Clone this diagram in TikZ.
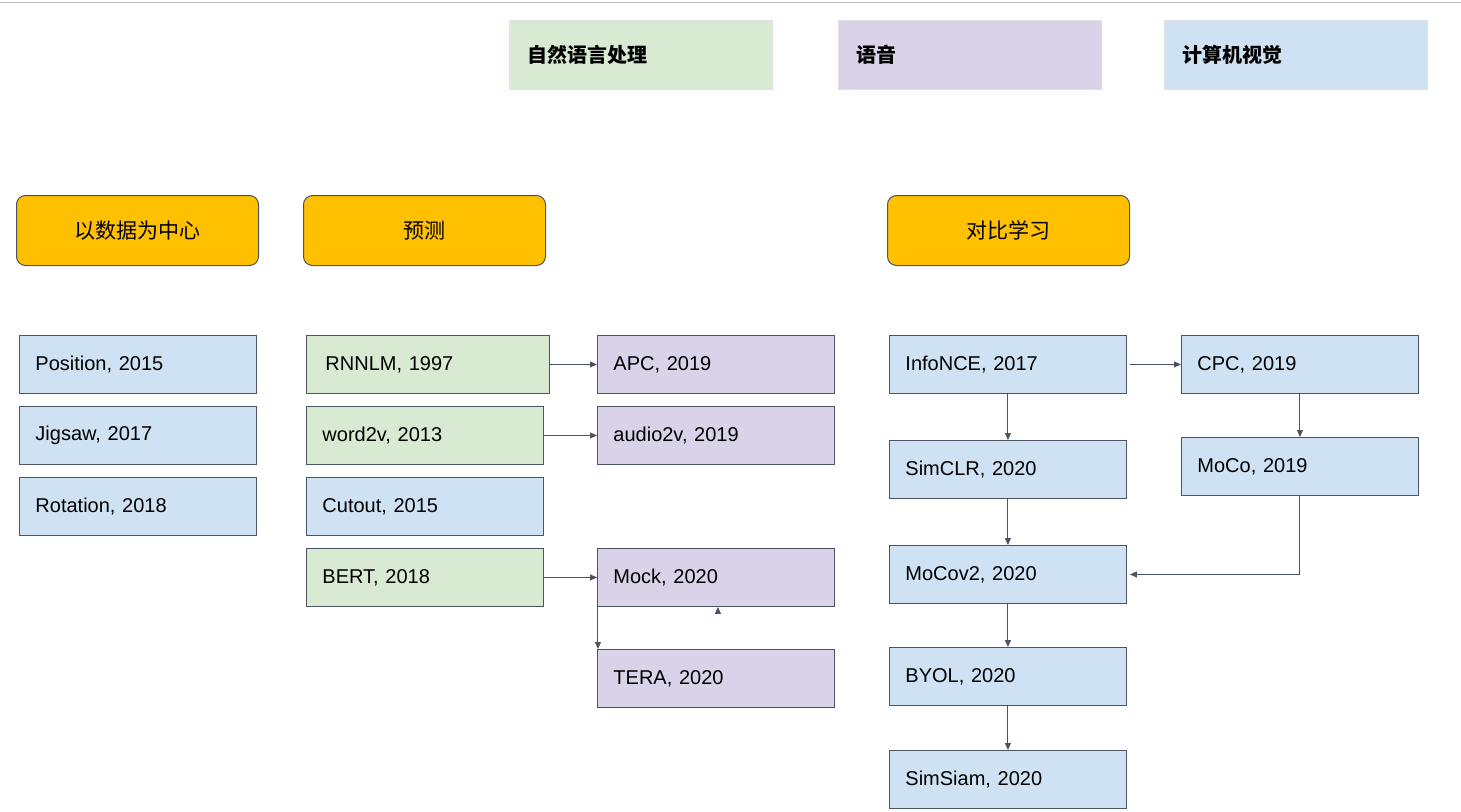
\documentclass[tikz,border=0pt]{standalone}
\usepackage{fontspec}
\setmainfont{Liberation Sans}
\newfontfamily\cjk{Noto Sans CJK SC}
\usetikzlibrary{arrows.meta}
\definecolor{nlp}{HTML}{D9EAD3}
\definecolor{sp}{HTML}{D9D2E9}
\definecolor{cv}{HTML}{CFE2F3}
\definecolor{org}{HTML}{FFC000}
\definecolor{edge}{HTML}{4A5462}
\begin{document}
\begin{tikzpicture}[x=1pt,y=-1pt,
 leg/.style={draw=black!12,minimum width=263pt,minimum height=69pt,anchor=north west,inner xsep=18pt,text width=227pt,align=left,font=\cjk\bfseries\fontsize{20}{24}\selectfont},
 cat/.style={draw=edge,fill=org,rounded corners=9pt,line width=1pt,minimum width=242pt,minimum height=70pt,anchor=north west,font=\cjk\fontsize{21}{25}\selectfont},
 box/.style={draw=edge,line width=0.9pt,minimum width=237pt,minimum height=58pt,anchor=north west,inner xsep=16pt,text width=205pt,align=left,font=\fontsize{20}{24}\selectfont},
 ar/.style={draw=edge,line width=1pt,-{Triangle[length=7pt,width=6pt]}}]
\useasboundingbox (0,0) rectangle (1461,811);
\draw[black!25,line width=1pt] (0,2) -- (1461,2);
\node[leg,fill=nlp] (l1) at (509,20) {自然语言处理};
\node[leg,fill=sp] (l2) at (838,20) {语音};
\node[leg,fill=cv] (l3) at (1164,20) {计算机视觉};
\node[cat] (c1) at (16,195) {以数据为中心};
\node[cat] (c2) at (303,195) {预测};
\node[cat] (c3) at (887,195) {对比学习};
\node[box,fill=cv] (pos) at (19,335) {Position, 2015};
\node[box,fill=cv] (jig) at (19,406) {Jigsaw, 2017};
\node[box,fill=cv] (rot) at (19,477) {Rotation, 2018};
\node[box,fill=nlp,inner xsep=19pt] (rnn) at (306,335) {RNNLM, 1997};
\node[box,fill=nlp] (w2v) at (306,406) {word2v, 2013};
\node[box,fill=cv] (cut) at (306,477) {Cutout, 2015};
\node[box,fill=nlp] (bert) at (306,548) {BERT, 2018};
\node[box,fill=sp] (apc) at (597,335) {APC, 2019};
\node[box,fill=sp] (a2v) at (597,406) {audio2v, 2019};
\node[box,fill=sp] (mock) at (597,548) {Mock, 2020};
\node[box,fill=sp] (tera) at (597,649) {TERA, 2020};
\node[box,fill=cv] (info) at (889,335) {InfoNCE, 2017};
\node[box,fill=cv] (sclr) at (889,440) {SimCLR, 2020};
\node[box,fill=cv] (mv2) at (889,545) {MoCov2, 2020};
\node[box,fill=cv] (byol) at (889,647) {BYOL, 2020};
\node[box,fill=cv] (ssiam) at (889,750) {SimSiam, 2020};
\node[box,fill=cv] (cpc) at (1181,335) {CPC, 2019};
\node[box,fill=cv] (moco) at (1181,437) {MoCo, 2019};
\draw[ar] (rnn.east) -- (apc.west);
\draw[ar] (w2v.east) -- (a2v.west);
\draw[ar] (bert.east) -- (mock.west);
\draw[ar] ([xshift=3pt]info.east) -- (cpc.west);
\draw[ar] ([xshift=-118pt]mock.south) -- ([xshift=-118pt]mock.south |- tera.north) coordinate (t);
\draw[ar] ([xshift=2pt]mock.south) ++(0,0) coordinate (m0);
\draw[ar] (info.south) -- (sclr.north);
\draw[ar] (sclr.south) -- (mv2.north);
\draw[ar] (mv2.south) -- (byol.north);
\draw[ar] (byol.south) -- (ssiam.north);
\draw[ar] (cpc.south) -- (moco.north);
\draw[ar] (moco.south) -- (moco.south |- mv2.east) -- ([xshift=3pt]mv2.east);
\end{tikzpicture}
\end{document}
